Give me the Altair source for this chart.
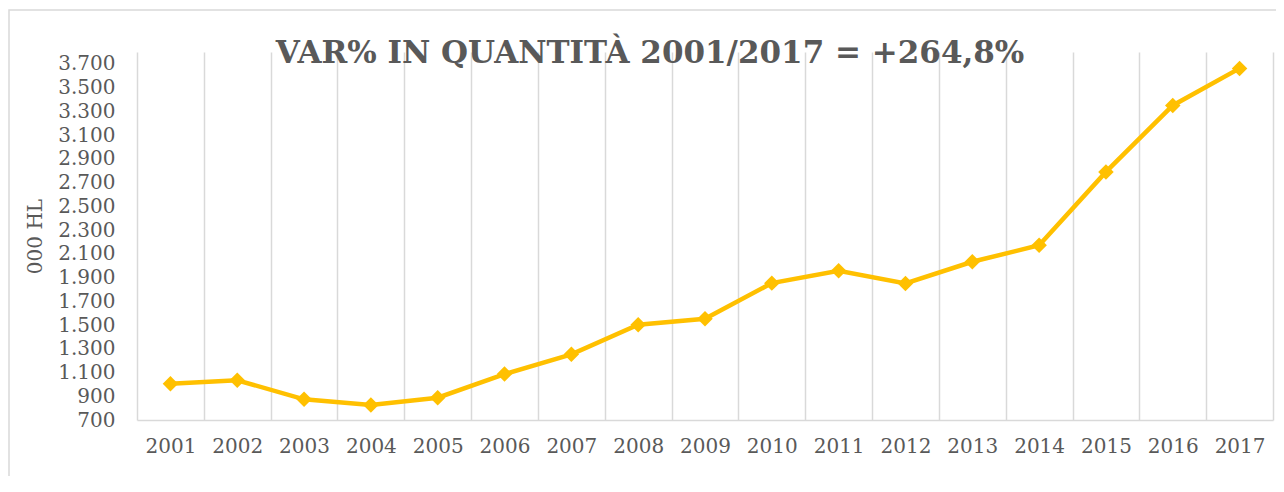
import altair as alt
import pandas as pd

years = [str(y) for y in range(2001, 2018)]
values = [1005, 1035, 874, 826, 888, 1087, 1253, 1503, 1553, 1853, 1957, 1850, 2033, 2172, 2790, 3350, 3662]
y_ticks = list(range(700, 3701, 200))

TITLE = "VAR% IN QUANTITÀ 2001/2017 = +264,8%"
Y_TITLE = "000 HL"
GOLD = "#FFC000"
GRID = "#D9D9D9"
TXT = "#595959"
FONT = "DejaVu Serif"

df = pd.DataFrame({"anno": years, "valore": values})

x_enc = alt.X(
    "anno:N",
    sort=years,
    scale=alt.Scale(type="band", paddingInner=0, paddingOuter=0),
    bandPosition=0.5,
    axis=alt.Axis(
        title=None,
        ticks=False,
        grid=True,
        gridColor=GRID,
        gridWidth=1.5,
        tickBand="extent",
        domain=True,
        domainColor=GRID,
        domainWidth=1.5,
        labelAngle=0,
        labelFont=FONT,
        labelFontSize=20,
        labelColor=TXT,
        labelPadding=16,
    ),
)
y_enc = alt.Y(
    "valore:Q",
    scale=alt.Scale(domain=[700, 3800], nice=False, zero=False),
    axis=alt.Axis(
        values=y_ticks,
        labelExpr="replace(format(datum.value, ','), ',', '.')",
        grid=False,
        ticks=False,
        domain=False,
        labelFont=FONT,
        labelFontSize=20,
        labelColor=TXT,
        labelPadding=22,
        title=Y_TITLE,
        titleFont=FONT,
        titleFontSize=20,
        titleFontWeight="normal",
        titleColor=TXT,
        titlePadding=12,
    ),
)

base = alt.Chart(df)
line = base.mark_line(color=GOLD, strokeWidth=4.5).encode(x=x_enc, y=y_enc)
pts = base.mark_point(shape="diamond", filled=True, size=240, color=GOLD, opacity=1).encode(x=x_enc, y=y_enc)

frame = alt.Chart(pd.DataFrame({"f": [0]})).mark_rect(
    fill=None, stroke=GRID, strokeWidth=1.5
).encode(
    x=alt.value(-128), x2=alt.value(1300), y=alt.value(-42), y2=alt.value(520)
)

chart = alt.layer(frame, line, pts).properties(
    width=1136,
    height=368,
    autosize=alt.AutoSizeParams(type="none"),
    padding={"left": 129, "top": 44, "right": 3, "bottom": 56},
    title=alt.TitleParams(
        TITLE,
        font=FONT,
        fontSize=31,
        fontWeight="bold",
        color=TXT,
        anchor="middle",
        dx=-55,
        dy=39,
        offset=-22,
    ),
).configure_view(stroke=None)

chart.save("out.html", embed_options={"renderer": "svg", "actions": False})
